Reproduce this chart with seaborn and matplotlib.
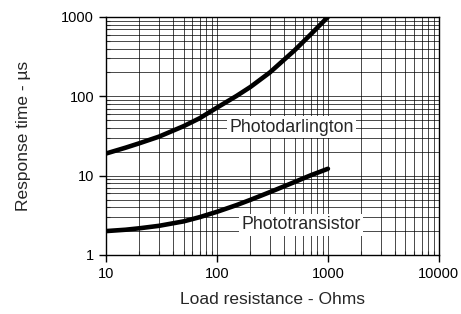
import numpy as np
import pandas as pd
import matplotlib
matplotlib.use("Agg")
import matplotlib.pyplot as plt
import seaborn as sns
from matplotlib.ticker import LogLocator, NullFormatter, FixedLocator, FixedFormatter

# values
load_ohms = [10, 15, 20, 30, 50, 70, 100, 150, 200, 300, 500, 700, 1000]
darlington_us = [19, 22.5, 25.6, 31, 42, 53, 72, 101, 131, 200, 379, 603, 1000]
transistor_us = [2.0, 2.08, 2.17, 2.33, 2.65, 3.0, 3.5, 4.25, 4.95, 6.2, 8.3, 10.1, 12.2]

x_ticks = [10, 100, 1000, 10000]
y_ticks = [1, 10, 100, 1000]

df = pd.DataFrame({
    "load": load_ohms * 2,
    "time": darlington_us + transistor_us,
    "device": ["Photodarlington"] * len(load_ohms) + ["Phototransistor"] * len(load_ohms),
})

sns.set_style("ticks")
plt.rcParams["font.family"] = ["Liberation Sans", "DejaVu Sans"]

fig = plt.figure(figsize=(4.61, 3.14), dpi=100)
ax = fig.add_axes([0.230, 0.188, 0.722, 0.758])

sns.lineplot(data=df, x="load", y="time", units="device", estimator=None,
             color="black", linewidth=3.3, ax=ax, legend=False, zorder=3,
             solid_joinstyle="round")

ax.set_xscale("log")
ax.set_yscale("log")
ax.set_xlim(10, 10000)
ax.set_ylim(1, 1000)

ax.xaxis.set_major_locator(FixedLocator(x_ticks))
ax.xaxis.set_major_formatter(FixedFormatter([str(v) for v in x_ticks]))
ax.yaxis.set_major_locator(FixedLocator(y_ticks))
ax.yaxis.set_major_formatter(FixedFormatter([str(v) for v in y_ticks]))
ax.xaxis.set_minor_locator(LogLocator(base=10, subs=np.arange(2, 10)))
ax.yaxis.set_minor_locator(LogLocator(base=10, subs=np.arange(2, 10)))
ax.xaxis.set_minor_formatter(NullFormatter())
ax.yaxis.set_minor_formatter(NullFormatter())

ax.grid(True, which="both", color="black", linewidth=0.5)
ax.tick_params(which="major", direction="out", length=5, width=1, labelsize=10.5, colors="black")
ax.tick_params(which="minor", direction="in", length=3, width=0.8)
for s in ax.spines.values():
    s.set_visible(True)
    s.set_color("black")
    s.set_linewidth(1.0)

ax.set_xlabel("Load resistance - Ohms", fontsize=12.5, labelpad=8)
ax.set_ylabel("Response time - µs", fontsize=12.5, labelpad=22)

box = dict(facecolor="white", edgecolor="none", pad=1.5)
ax.text(129, 41, "Photodarlington", fontsize=12.8, va="center", ha="left", bbox=box, zorder=4)
ax.text(166, 2.39, "Phototransistor", fontsize=12.8, va="center", ha="left", bbox=box, zorder=4)

fig.savefig("out.png", dpi=100)
